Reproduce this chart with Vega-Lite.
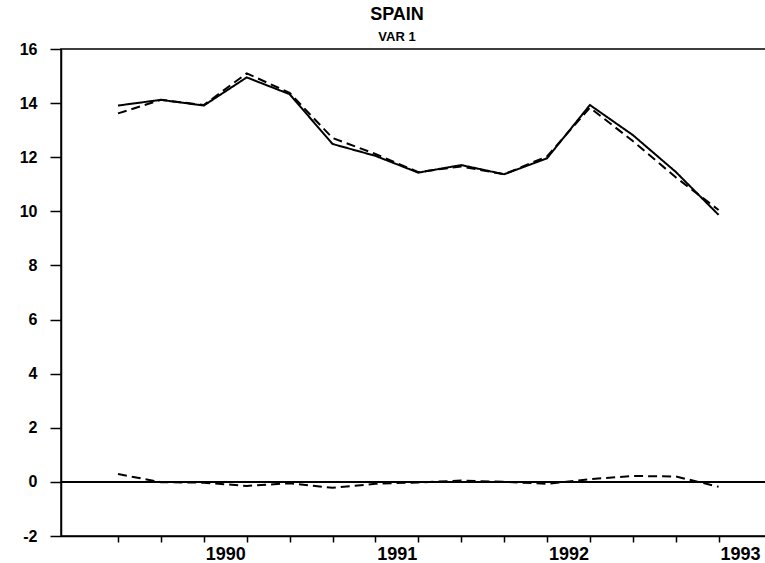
{
  "$schema": "https://vega.github.io/schema/vega-lite/v6.json",
  "autosize": {"type": "none"},
  "width": 708,
  "height": 487,
  "padding": {"left": 61, "top": 49, "right": 0, "bottom": 27},
  "background": "white",
  "title": {
    "text": "SPAIN",
    "subtitle": "VAR 1",
    "anchor": "middle",
    "dx": -18,
    "font": "Liberation Sans",
    "fontSize": 18,
    "fontWeight": "bold",
    "color": "black",
    "subtitleFont": "Liberation Sans",
    "subtitleFontSize": 13,
    "subtitleFontWeight": "bold",
    "subtitleColor": "black",
    "subtitlePadding": 7,
    "offset": -3
  },
  "config": {
    "view": {"stroke": "black", "strokeWidth": 1.5},
    "axis": {
      "domainColor": "black",
      "domainWidth": 1.5,
      "tickColor": "black",
      "tickWidth": 1.5,
      "labelColor": "black",
      "labelFont": "Liberation Sans",
      "labelFontWeight": "bold",
      "grid": false,
      "title": null
    }
  },
  "data": {
    "values": [
      {"t": 1989.375, "series": "actual", "value": 13.91},
      {"t": 1989.625, "series": "actual", "value": 14.12},
      {"t": 1989.875, "series": "actual", "value": 13.91},
      {"t": 1990.125, "series": "actual", "value": 14.95},
      {"t": 1990.375, "series": "actual", "value": 14.33},
      {"t": 1990.625, "series": "actual", "value": 12.49},
      {"t": 1990.875, "series": "actual", "value": 12.05},
      {"t": 1991.125, "series": "actual", "value": 11.43},
      {"t": 1991.375, "series": "actual", "value": 11.71},
      {"t": 1991.625, "series": "actual", "value": 11.37},
      {"t": 1991.875, "series": "actual", "value": 11.96},
      {"t": 1992.125, "series": "actual", "value": 13.93},
      {"t": 1992.375, "series": "actual", "value": 12.82},
      {"t": 1992.625, "series": "actual", "value": 11.46},
      {"t": 1992.875, "series": "actual", "value": 9.87},
      {"t": 1989.375, "series": "fitted", "value": 13.62},
      {"t": 1989.625, "series": "fitted", "value": 14.12},
      {"t": 1989.875, "series": "fitted", "value": 13.93},
      {"t": 1990.125, "series": "fitted", "value": 15.1},
      {"t": 1990.375, "series": "fitted", "value": 14.38},
      {"t": 1990.625, "series": "fitted", "value": 12.71},
      {"t": 1990.875, "series": "fitted", "value": 12.12},
      {"t": 1991.125, "series": "fitted", "value": 11.45},
      {"t": 1991.375, "series": "fitted", "value": 11.66},
      {"t": 1991.625, "series": "fitted", "value": 11.37},
      {"t": 1991.875, "series": "fitted", "value": 12.03},
      {"t": 1992.125, "series": "fitted", "value": 13.83},
      {"t": 1992.375, "series": "fitted", "value": 12.6},
      {"t": 1992.625, "series": "fitted", "value": 11.26},
      {"t": 1992.875, "series": "fitted", "value": 10.05},
      {"t": 1989.375, "series": "residual", "value": 0.29},
      {"t": 1989.625, "series": "residual", "value": -0.01},
      {"t": 1989.875, "series": "residual", "value": -0.03},
      {"t": 1990.125, "series": "residual", "value": -0.15},
      {"t": 1990.375, "series": "residual", "value": -0.05},
      {"t": 1990.625, "series": "residual", "value": -0.22},
      {"t": 1990.875, "series": "residual", "value": -0.07},
      {"t": 1991.125, "series": "residual", "value": -0.02},
      {"t": 1991.375, "series": "residual", "value": 0.05},
      {"t": 1991.625, "series": "residual", "value": 0.0},
      {"t": 1991.875, "series": "residual", "value": -0.07},
      {"t": 1992.125, "series": "residual", "value": 0.1},
      {"t": 1992.375, "series": "residual", "value": 0.22},
      {"t": 1992.625, "series": "residual", "value": 0.2},
      {"t": 1992.875, "series": "residual", "value": -0.18}
    ]
  },
  "layer": [
    {
      "mark": {"type": "rule", "color": "black", "strokeWidth": 1.5},
      "encoding": {"y": {"datum": 0, "type": "quantitative"}}
    },
    {
      "mark": {"type": "line", "color": "black", "strokeWidth": 2},
      "encoding": {
        "x": {
          "field": "t",
          "type": "quantitative",
          "scale": {"domain": [1989.0428, 1993.1687], "nice": false, "zero": false},
          "axis": {
            "values": [1989.375, 1989.625, 1989.875, 1990, 1990.125, 1990.375, 1990.625, 1990.875, 1991, 1991.125, 1991.375, 1991.625, 1991.875, 1992, 1992.125, 1992.375, 1992.625, 1992.875, 1993],
            "labelExpr": "datum.value % 1 === 0 ? datum.value : ''",
            "tickOpacity": {"condition": {"test": "datum.value % 1 === 0", "value": 0}, "value": 1},
            "tickSize": 6,
            "labelPadding": 3,
            "labelFontSize": 18,
            "labelFlush": false,
            "labelOverlap": false,
            "domain": true
          }
        },
        "y": {
          "field": "value",
          "type": "quantitative",
          "scale": {"domain": [-2, 16], "nice": false},
          "axis": {
            "values": [-2, 0, 2, 4, 6, 8, 10, 12, 14, 16],
            "labelExpr": "datum.value < 0 ? '-' + abs(datum.value) : '' + datum.value",
            "tickSize": 11,
            "labelPadding": 13,
            "labelFontSize": 16
          }
        },
        "detail": {"field": "series"},
        "strokeDash": {
          "field": "series",
          "type": "nominal",
          "scale": {"domain": ["actual", "fitted", "residual"], "range": [[1, 0], [9, 5], [9, 5]]},
          "legend": null
        }
      }
    }
  ]
}
